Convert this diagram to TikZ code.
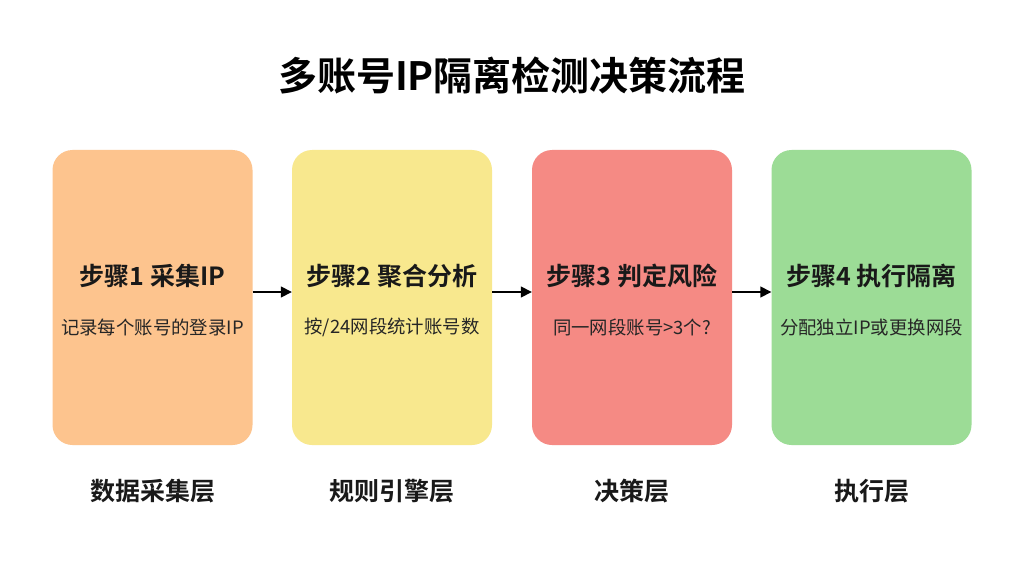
\documentclass[tikz,border=0pt]{standalone}
\usepackage{fontspec}
\setmainfont{Noto Sans CJK SC}
\newfontfamily\cjkb{Noto Sans CJK SC Bold}
\usetikzlibrary{arrows.meta}
\definecolor{cOrange}{RGB}{253,196,142}
\definecolor{cYellow}{RGB}{248,232,142}
\definecolor{cRed}{RGB}{245,138,132}
\definecolor{cGreen}{RGB}{156,220,150}
\tikzset{
  stepbox/.style={rounded corners=20pt, minimum width=200pt, minimum height=295pt, inner sep=0pt, draw=none},
  steptitle/.style={font=\cjkb\fontsize{25}{29}\selectfont, text=black!90},
  stepsub/.style={font=\fontsize{18.4}{22}\selectfont, text=black!85},
  layer/.style={font=\cjkb\fontsize{25}{29}\selectfont, text=black!90},
  flow/.style={-{Triangle[length=11pt,width=11pt]}, line width=1.5pt, black}
}
\begin{document}
\begin{tikzpicture}[x=1pt,y=-1pt]
\useasboundingbox[fill=white] (0,0) rectangle (1024,572);
\node[font=\cjkb\fontsize{39}{43}\selectfont] (title) at (512,76) {多账号IP隔离检测决策流程};
\node[stepbox, fill=cOrange] (b1) at (152.5,297.5) {};
\node[stepbox, fill=cYellow] (b2) at (392,297.5) {};
\node[stepbox, fill=cRed] (b3) at (632,297.5) {};
\node[stepbox, fill=cGreen] (b4) at (871.5,297.5) {};
\node[steptitle] (t1) at (152.5,276) {步骤1 采集IP};
\node[steptitle] (t2) at (392,276) {步骤2 聚合分析};
\node[steptitle] (t3) at (632,276) {步骤3 判定风险};
\node[steptitle] (t4) at (871.5,276) {步骤4 执行隔离};
\node[stepsub] (s1) at (152.5,327) {记录每个账号的登录IP};
\node[stepsub] (s2) at (392,327) {按/24网段统计账号数};
\node[stepsub] (s3) at (632,327) {同一网段账号>3个?};
\node[stepsub] (s4) at (871.5,327) {分配独立IP或更换网段};
\node[layer] (l1) at (152.5,491) {数据采集层};
\node[layer] (l2) at (392,491) {规则引擎层};
\node[layer] (l3) at (632,491) {决策层};
\node[layer] (l4) at (871.5,491) {执行层};
\draw[flow] (b1.east |- 0,292) -- (b2.west |- 0,292);
\draw[flow] (b2.east |- 0,292) -- (b3.west |- 0,292);
\draw[flow] (b3.east |- 0,292) -- (b4.west |- 0,292);
\end{tikzpicture}
\end{document}
